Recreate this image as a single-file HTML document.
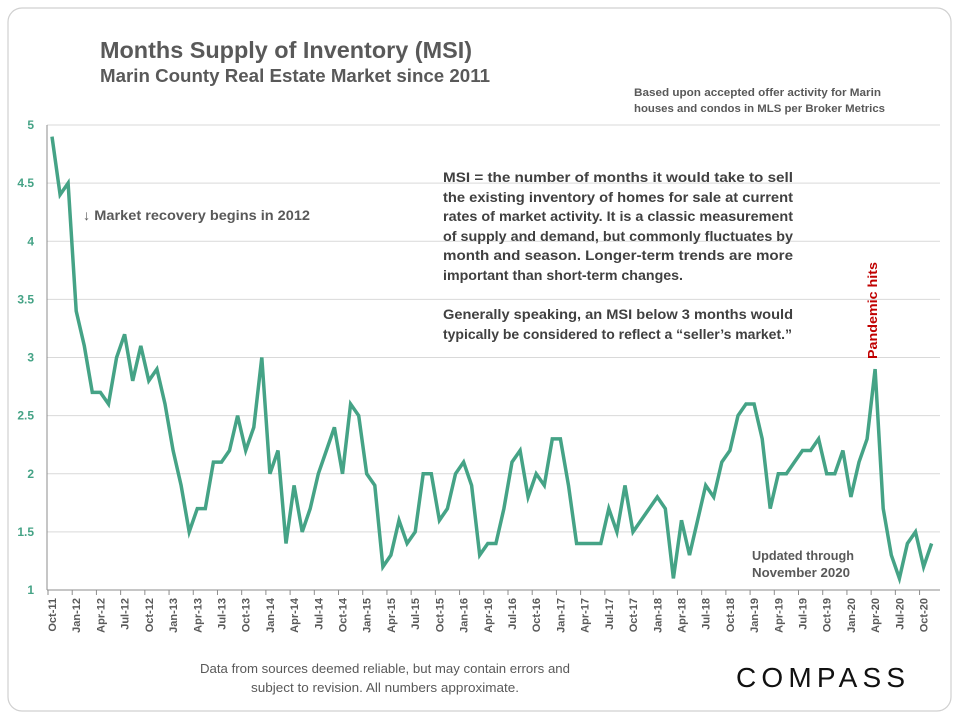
<!DOCTYPE html>
<html><head><meta charset="utf-8"><style>
html,body{margin:0;padding:0;background:#fff;}
svg{display:block;font-family:"Liberation Sans",sans-serif;}
</style></head><body>
<svg width="960" height="720" viewBox="0 0 960 720">
<rect x="8" y="8" width="943" height="703" rx="14" fill="#fff" stroke="#d0d0d0" stroke-width="1.2"/>
<text x="100" y="58" font-size="23" font-weight="bold" fill="#595959" textLength="372" lengthAdjust="spacingAndGlyphs">Months Supply of Inventory (MSI)</text>
<text x="100" y="82" font-size="18" font-weight="bold" fill="#595959" textLength="390" lengthAdjust="spacingAndGlyphs">Marin County Real Estate Market since 2011</text>
<text x="634" y="96" font-size="11" font-weight="bold" fill="#595959" textLength="247" lengthAdjust="spacingAndGlyphs">Based upon accepted offer activity for Marin</text>
<text x="634" y="112" font-size="11" font-weight="bold" fill="#595959" textLength="251" lengthAdjust="spacingAndGlyphs">houses and condos in MLS per Broker Metrics</text>
<g id="grid"></g>
<g id="yticks"></g>
<g id="xticks"></g>
<path id="line" fill="none" stroke="#45a386" stroke-width="3.5" stroke-linejoin="miter"/>
<text x="83" y="220" font-size="14" font-weight="bold" fill="#595959" textLength="227" lengthAdjust="spacingAndGlyphs">↓ Market recovery begins in 2012</text>
<g font-size="14" font-weight="bold" fill="#404040">
<text x="443" y="182" textLength="350" lengthAdjust="spacingAndGlyphs">MSI = the number of months it would take to sell</text>
<text x="443" y="202" textLength="350" lengthAdjust="spacingAndGlyphs">the existing inventory of homes for sale at current</text>
<text x="443" y="221" textLength="350" lengthAdjust="spacingAndGlyphs">rates of market activity.  It is a classic measurement</text>
<text x="443" y="241" textLength="350" lengthAdjust="spacingAndGlyphs">of supply and demand, but commonly fluctuates by</text>
<text x="443" y="260" textLength="350" lengthAdjust="spacingAndGlyphs">month and season. Longer-term trends are more</text>
<text x="443" y="280" textLength="240" lengthAdjust="spacingAndGlyphs">important than short-term changes.</text>
<text x="443" y="319" textLength="350" lengthAdjust="spacingAndGlyphs">Generally speaking, an MSI below 3 months would</text>
<text x="443" y="339" textLength="349" lengthAdjust="spacingAndGlyphs">typically be considered to reflect a “seller’s market.”</text>
</g>
<text transform="translate(877,359) rotate(-90)" font-size="13" font-weight="bold" fill="#c00000" textLength="97" lengthAdjust="spacingAndGlyphs">Pandemic hits</text>
<text x="752" y="560" font-size="13" font-weight="bold" fill="#595959" textLength="102" lengthAdjust="spacingAndGlyphs">Updated through</text>
<text x="752" y="577" font-size="13" font-weight="bold" fill="#595959" textLength="98" lengthAdjust="spacingAndGlyphs">November 2020</text>
<text x="200" y="673" font-size="13" fill="#595959" textLength="370" lengthAdjust="spacingAndGlyphs">Data from sources deemed reliable, but may contain errors and</text>
<text x="251" y="692" font-size="13" fill="#595959" textLength="268" lengthAdjust="spacingAndGlyphs">subject to revision. All numbers approximate.</text>
<text x="736" y="687" font-size="28" fill="#111" letter-spacing="3" textLength="172" lengthAdjust="spacing">COMPASS</text>
</svg>
<script>
const yTicks = [1, 1.5, 2, 2.5, 3, 3.5, 4, 4.5, 5];
const yTickLabels = ["1", "1.5", "2", "2.5", "3", "3.5", "4", "4.5", "5"];
const months = ["Jan","Feb","Mar","Apr","May","Jun","Jul","Aug","Sep","Oct","Nov","Dec"];
const startYear = 2011;
const startMonth = 9;
const msiValues = [
4.9,4.4,4.5,
3.4,3.1,2.7,2.7,2.6,3.0,3.2,2.8,3.1,2.8,2.9,2.6,
2.2,1.9,1.5,1.7,1.7,2.1,2.1,2.2,2.5,2.2,2.4,3.0,
2.0,2.2,1.4,1.9,1.5,1.7,2.0,2.2,2.4,2.0,2.6,2.5,
2.0,1.9,1.2,1.3,1.6,1.4,1.5,2.0,2.0,1.6,1.7,2.0,
2.1,1.9,1.3,1.4,1.4,1.7,2.1,2.2,1.8,2.0,1.9,2.3,
2.3,1.9,1.4,1.4,1.4,1.4,1.7,1.5,1.9,1.5,1.6,1.7,
1.8,1.7,1.1,1.6,1.3,1.6,1.9,1.8,2.1,2.2,2.5,2.6,
2.6,2.3,1.7,2.0,2.0,2.1,2.2,2.2,2.3,2.0,2.0,2.2,
1.8,2.1,2.3,2.9,1.7,1.3,1.1,1.4,1.5,1.2,1.4
];
const categories = msiValues.map((v,i)=>{const m=(startMonth+i)%12;const y=startYear+Math.floor((startMonth+i)/12);return months[m]+"-"+String(y).slice(2);});
const NS="http://www.w3.org/2000/svg";
const x0=52, step=8.07, yBase=590, yTop=125, axisLeft=47, gridRight=940;
const X=i=>x0+i*step;
const Y=v=>yBase-(v-1)/(5-1)*(yBase-yTop);
const grid=document.getElementById('grid'), yt=document.getElementById('yticks'), xt=document.getElementById('xticks');
yTicks.forEach((t,k)=>{
  const l=document.createElementNS(NS,'line');
  
  
  l.setAttribute('x1',axisLeft);l.setAttribute('x2',gridRight);l.setAttribute('y1',Y(t));l.setAttribute('y2',Y(t));
  l.setAttribute('stroke',k===0?'#8c8c8c':'#d9d9d9');l.setAttribute('stroke-width',1);
  grid.appendChild(l);
  const tx=document.createElementNS(NS,'text');
  
  
  tx.setAttribute('x',34);tx.setAttribute('y',Y(t)+4);tx.setAttribute('text-anchor','end');
  tx.setAttribute('font-size','12');tx.setAttribute('font-weight','bold');tx.setAttribute('fill','#45a386');
  tx.textContent=yTickLabels[k];yt.appendChild(tx);
});
const ax=document.createElementNS(NS,'line');


ax.setAttribute('x1',axisLeft);ax.setAttribute('x2',axisLeft);ax.setAttribute('y1',yTop);ax.setAttribute('y2',yBase);
ax.setAttribute('stroke','#8c8c8c');yt.appendChild(ax);
categories.forEach((c,i)=>{
  if(i%3!==0) return;
  const tk=document.createElementNS(NS,'line');
  
  
  tk.setAttribute('x1',X(i)-4);tk.setAttribute('x2',X(i)-4);tk.setAttribute('y1',yBase);tk.setAttribute('y2',yBase+5);
  tk.setAttribute('stroke','#8c8c8c');xt.appendChild(tk);
  const tx=document.createElementNS(NS,'text');
  
  
  tx.setAttribute('transform','translate('+(X(i)+4)+','+(yBase+8)+') rotate(-90)');
  tx.setAttribute('text-anchor','end');tx.setAttribute('font-size','11');tx.setAttribute('font-weight','bold');tx.setAttribute('fill','#595959');
  tx.textContent=c;xt.appendChild(tx);
});
document.getElementById('line').setAttribute('d',msiValues.map((v,i)=>(i?'L':'M')+X(i).toFixed(1)+','+Y(v).toFixed(1)).join(' '));
</script>
</body></html>
